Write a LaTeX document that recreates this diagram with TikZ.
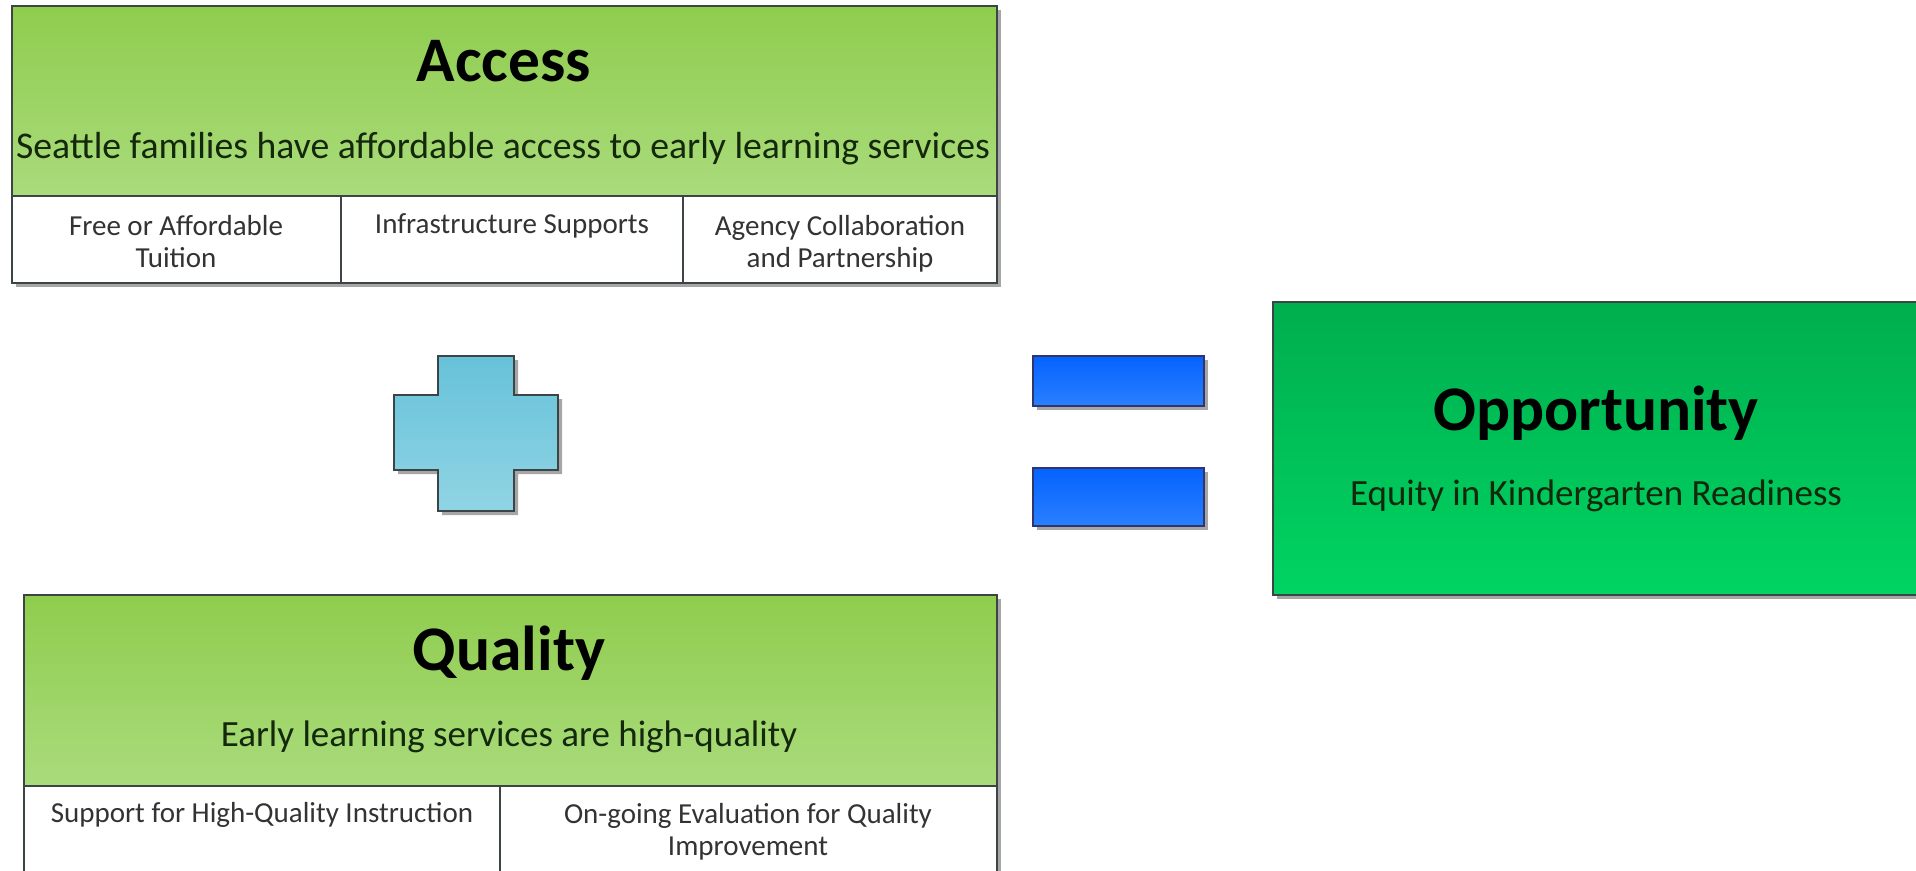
\documentclass[tikz,border=0pt]{standalone}
\usepackage{fontspec}
\setmainfont{Carlito}
\usetikzlibrary{shadows}
\definecolor{edge}{HTML}{3C4446}
\definecolor{lgTop}{HTML}{8FCD4E}
\definecolor{lgBot}{HTML}{AADB7C}
\definecolor{dgTop}{HTML}{00AE4E}
\definecolor{dgBot}{HTML}{00D462}
\definecolor{plTop}{HTML}{66C2D9}
\definecolor{plBot}{HTML}{90D4E4}
\definecolor{blTop}{HTML}{0562FF}
\definecolor{blBot}{HTML}{2A80FF}
\definecolor{celltxt}{HTML}{333333}
\definecolor{subtxt}{HTML}{14280C}
\begin{document}
\begin{tikzpicture}[x=1pt,y=-1pt,
  shd/.style={drop shadow={shadow xshift=4pt,shadow yshift=-4pt,fill=black,opacity=0.35}},
  box/.style={draw=edge,line width=1.3pt,anchor=north west,inner sep=0pt,outer sep=0pt,shd},
  greenbox/.style={box,top color=lgTop,bottom color=lgBot},
  oppbox/.style={box,top color=dgTop,bottom color=dgBot},
  cellbox/.style={box,fill=white},
  barbox/.style={box,draw=edge!80!blue,top color=blTop,bottom color=blBot},
  titletxt/.style={anchor=base,inner sep=0pt,font=\bfseries\fontsize{63.5}{70}\selectfont},
  subtitle/.style={anchor=base,inner sep=0pt,text=subtxt,font=\fontsize{37}{42}\selectfont},
  celltext/.style={anchor=base,inner sep=0pt,text=celltxt,align=center,font=\fontsize{29}{32}\selectfont}
]
\clip (0,0) rectangle (1916,870);
\fill[white] (0,0) rectangle (1916,870);

% Access block
\node[greenbox,minimum width=985pt,minimum height=190pt] (accg) at (12,6) {};
\node[cellbox,minimum width=329pt,minimum height=87pt] (acc1) at (12,196) {};
\node[cellbox,minimum width=342pt,minimum height=87pt] (acc2) at (341,196) {};
\node[cellbox,minimum width=314pt,minimum height=87pt] (acc3) at (683,196) {};
\node[titletxt] (acct) at (504,81) {Access};
\node[subtitle,font=\fontsize{37.7}{42}\selectfont] (accs) at (503,158) {Seattle families have affordable access to early learning services};
\node[celltext] (acc1t) at (176,235) {Free or Affordable};
\node[celltext] (acc1u) at (176,267) {Tuition};
\node[celltext] (acc2t) at (512,233) {Infrastructure Supports};
\node[celltext] (acc3t) at (840,235) {Agency Collaboration};
\node[celltext] (acc3u) at (840,267) {and Partnership};

% Quality block
\node[greenbox,minimum width=973pt,minimum height=191pt] (qg) at (24,595) {};
\node[cellbox,minimum width=476pt,minimum height=100pt] (q1) at (24,786) {};
\node[cellbox,minimum width=497pt,minimum height=100pt] (q2) at (500,786) {};
\node[titletxt] (qt) at (509,670) {Quality};
\node[subtitle] (qs) at (509,746) {Early learning services are high-quality};
\node[celltext] (q1t) at (262,822) {Support for High-Quality Instruction};
\node[celltext] (q2t) at (748,823) {On-going Evaluation for Quality};
\node[celltext] (q2u) at (748,855) {Improvement};

% Plus sign
\filldraw[draw=edge,line width=1.3pt,top color=plTop,bottom color=plBot,shd]
  (438,356) -- (514,356) -- (514,395) -- (558,395) -- (558,470) -- (514,470)
  -- (514,511) -- (438,511) -- (438,470) -- (394,470) -- (394,395) -- (438,395) -- cycle;

% Equals sign
\node[barbox,minimum width=171pt,minimum height=50pt] (eq1) at (1033,356) {};
\node[barbox,minimum width=171pt,minimum height=58pt] (eq2) at (1033,468) {};

% Opportunity block
\node[oppbox,minimum width=700pt,minimum height=293pt] (opp) at (1273,302) {};
\node[titletxt] (oppt) at (1596,430) {Opportunity};
\node[subtitle] (opps) at (1596,505) {Equity in Kindergarten Readiness};
\end{tikzpicture}
\end{document}
